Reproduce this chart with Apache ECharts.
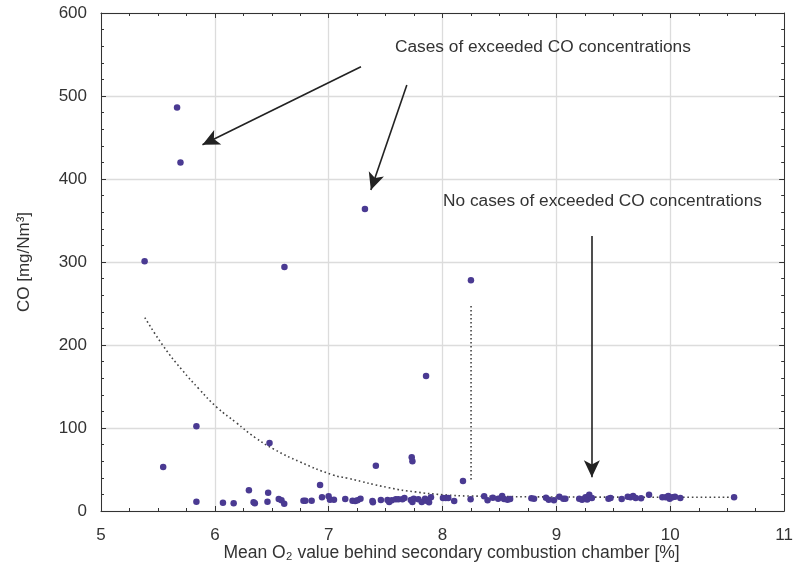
<!DOCTYPE html>
<html>
<head>
<meta charset="utf-8">
<script src="https://cdn.jsdelivr.net/npm/echarts@6/dist/echarts.min.js"></script>
<style>
html,body{margin:0;padding:0;background:#fff;}
#chart{width:796px;height:572px;}
</style>
</head>
<body>
<div id="chart"></div>
<script>
// Measured points: mean O2 [%] and CO [mg/Nm3]
const o2Values = [
  5.383, 5.546, 5.668, 5.698, 5.838, 5.838, 6.071, 6.165, 6.299, 6.340, 6.351, 6.468, 6.462, 6.480,
  6.561, 6.585, 6.609, 6.611, 6.778, 6.795, 6.850, 6.924, 6.941, 6.999, 7.011, 7.046, 7.145,
  7.209, 7.233, 7.253, 7.279, 7.318, 7.384, 7.388, 7.414, 7.458, 7.516, 7.531, 7.554, 7.589, 7.612,
  7.647, 7.665, 7.721, 7.729, 7.735, 7.735, 7.747, 7.787, 7.817, 7.846, 7.855, 7.857, 7.881, 7.898,
  8.003, 8.027, 8.050, 8.102, 8.179, 8.246, 8.249, 8.365, 8.395, 8.441, 8.488, 8.523, 8.540, 8.570,
  8.593, 8.780, 8.803, 8.908, 8.932, 8.978, 9.025, 9.060, 9.078, 9.200, 9.225, 9.255, 9.270, 9.288,
  9.311, 9.457, 9.475, 9.573, 9.626, 9.650, 9.673, 9.696, 9.743, 9.813, 9.930, 9.959, 9.982, 9.994,
  10.018, 10.041, 10.088, 10.560
];
const coValues = [
  301, 53, 486, 420, 102, 11, 10, 9.3, 25, 10.5, 9.3, 22, 11.2, 82,
  14.5, 12.9, 8.8, 294, 12.4, 12.4, 12.4, 31.3, 16.5, 17.7, 13.6, 13.6, 14.5,
  12.4, 12, 12.9, 14.8, 364, 12, 10.5, 54.6, 13.3, 13.3, 10.8, 12.9, 14.1, 14.1,
  14.1, 15.7, 13.3, 64.7, 59.9, 10.8, 14.8, 14.1, 10.8, 14.8, 162.7, 12.4, 10.5, 16.5,
  15.7, 15.7, 15.7, 12, 36.1, 14.1, 278, 17.7, 12.9, 16, 14.8, 18.1, 14.5, 13.6,
  14.5, 15.3, 14.8, 16, 13.6, 12.9, 17.2, 14.8, 14.8, 14.8, 13.5, 16.5, 14, 19.6,
  15.7, 14.8, 15.7, 14.5, 17.2, 16.5, 18.1, 15.7, 15.3, 19.6, 16.5, 16.5, 18.1, 14.8,
  16.5, 17.2, 15.7, 16.5
];
// Dotted trend curve
const trendX = [5.385, 5.549, 5.712, 5.861, 6.018, 6.188, 6.351, 6.521, 6.743, 7.034, 7.166, 7.53, 7.76, 8.003, 8.255, 9.27, 10.56];
const trendY = [233, 198.4, 169.9, 147, 124.9, 106.4, 88.8, 74.3, 59.4, 43.5, 39.5, 28, 23, 19.6, 18, 16.8, 16.5];
// Vertical dotted marker
const markerX = [8.25, 8.25];
const markerY = [247, 36.5];
// Annotation arrows [x1, y1, x2, y2] in data units (tail -> tip)
const arrows = [
  [7.283, 535.3, 5.891, 441.3],
  [7.686, 513.3, 7.370, 386.7],
  [9.311, 331.3, 9.311, 40.6]
];
const annotations = ['Cases of exceeded CO concentrations', 'No cases of exceeded CO concentrations'];
const xTicks = {min: 5, max: 11, interval: 1};
const yTicks = {min: 0, max: 600, interval: 100};

const FONT = '"Liberation Sans", Arial, sans-serif';
const zip = (a, b) => a.map((v, i) => [v, b[i]]);

const chart = echarts.init(document.getElementById('chart'), null, {renderer: 'canvas'});

const baseX = {
  type: 'value', min: xTicks.min, max: xTicks.max, interval: xTicks.interval,
  axisLine: {show: true, onZero: false, lineStyle: {color: '#333', width: 1}},
  axisTick: {show: true, inside: true, length: 5, lineStyle: {color: '#333'}},
  minorTick: {show: true, splitNumber: 4, length: 3, lineStyle: {color: '#333'}}
};
const baseY = {
  type: 'value', min: yTicks.min, max: yTicks.max, interval: yTicks.interval,
  axisLine: {show: true, onZero: false, lineStyle: {color: '#333', width: 1}},
  axisTick: {show: true, inside: true, length: 5, lineStyle: {color: '#333'}},
  minorTick: {show: true, splitNumber: 5, length: 3, lineStyle: {color: '#333'}}
};

chart.setOption({
  animation: false,
  backgroundColor: '#fff',
  grid: {left: 101, right: 10, top: 13, bottom: 61},
  xAxis: [
    Object.assign({}, baseX, {
      position: 'bottom',
      name: 'Mean O₂ value behind secondary combustion chamber [%]',
      nameLocation: 'middle', nameGap: 33, nameMoveOverlap: false,
      nameTextStyle: {fontFamily: FONT, fontSize: 17.5, color: '#333', padding: [0, 0, 0, 18]},
      axisLabel: {fontFamily: FONT, fontSize: 17, color: '#333', margin: 16},
      splitLine: {show: true, lineStyle: {color: '#dcdcdc', width: 1.3}}
    }),
    Object.assign({}, baseX, {
      position: 'top', axisLabel: {show: false}, splitLine: {show: false}
    })
  ],
  yAxis: [
    Object.assign({}, baseY, {
      position: 'left',
      name: 'CO [mg/Nm³]',
      nameLocation: 'middle', nameGap: 68, nameMoveOverlap: false,
      nameTextStyle: {fontFamily: FONT, fontSize: 17, color: '#333'},
      axisLabel: {fontFamily: FONT, fontSize: 17, color: '#333', margin: 14},
      splitLine: {show: true, lineStyle: {color: '#dcdcdc', width: 1.3}}
    }),
    Object.assign({}, baseY, {
      position: 'right', axisLabel: {show: false}, splitLine: {show: false}
    })
  ],
  series: [
    {
      type: 'line',
      data: zip(trendX, trendY),
      smooth: 0.5,
      showSymbol: false,
      symbol: 'none',
      lineStyle: {color: '#444', width: 1.6, type: [1.6, 2.8]},
      silent: true, z: 2
    },
    {
      type: 'line',
      data: zip(markerX, markerY),
      showSymbol: false,
      symbol: 'none',
      lineStyle: {color: '#444', width: 1.6, type: [1.6, 2.4]},
      silent: true, z: 2
    },
    {
      type: 'scatter',
      data: zip(o2Values, coValues),
      symbolSize: 6.5,
      itemStyle: {color: '#4a3a92', opacity: 1},
      z: 3,
      markLine: {
        silent: true,
        animation: false,
        symbol: ['none', 'arrow'],
        symbolSize: [12, 17],
        label: {show: false},
        lineStyle: {color: '#222', width: 1.6, type: 'solid'},
        emphasis: {disabled: true},
        data: arrows.map(a => [{coord: [a[0], a[1]]}, {coord: [a[2], a[3]]}])
      }
    }
  ],
  graphic: [
    {type: 'text', z: 100, left: 395, top: 39, style: {text: annotations[0], font: '17.3px ' + FONT, fill: '#333'}},
    {type: 'text', z: 100, left: 443, top: 193, style: {text: annotations[1], font: '17.3px ' + FONT, fill: '#333'}}
  ]
});
</script>
</body>
</html>
